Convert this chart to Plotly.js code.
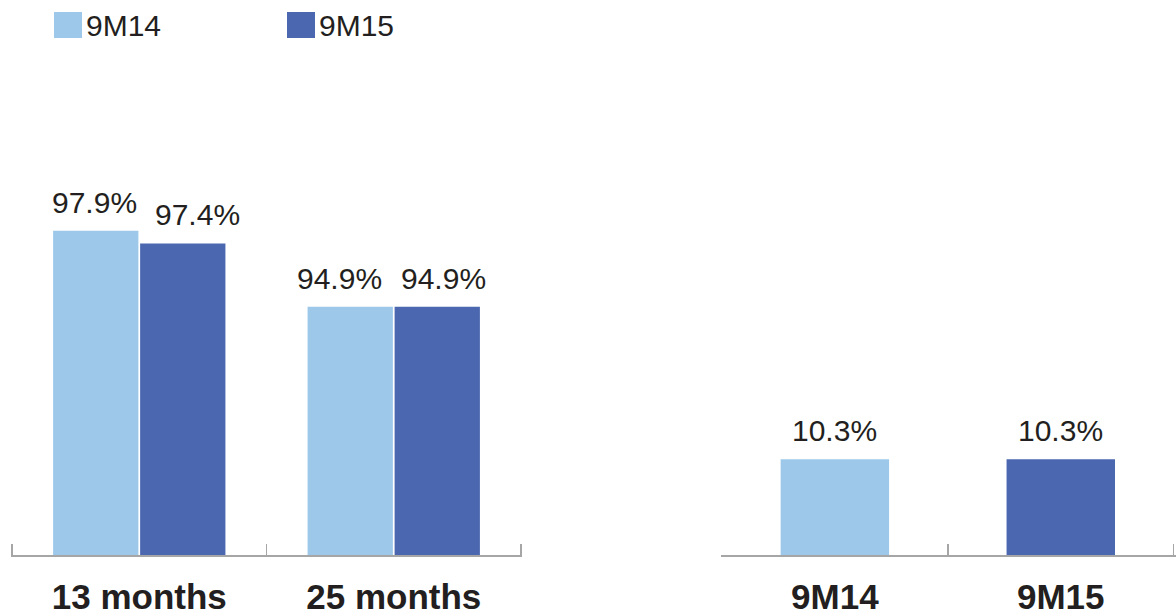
<!DOCTYPE html>
<html>
<head>
<meta charset="utf-8">
<script src="https://cdn.plot.ly/plotly-3.0.1.min.js"></script>
<style>
html,body{margin:0;padding:0;background:#fff;}
#chart{width:1176px;height:615px;}
</style>
</head>
<body>
<div id="chart"></div>
<script>
// ---- data ----
const retentionCategories = ["13 months", "25 months"];
const retention9M14 = [97.9, 94.9];
const retention9M15 = [97.4, 94.9];
const rightCategories = ["9M14", "9M15"];
const rightValues = [10.3, 10.3];
const seriesNames = ["9M14", "9M15"];

const LIGHT = "#9DC8EA";
const DARK = "#4A67B0";
const TEXT = "#231F20";
const AXIS = "#A6A6A6";
const FONT = "Arial, 'Liberation Sans', sans-serif";

// label nudges (pixels) so neighbouring labels do not collide, as in the original
const nudge14 = [-1, -10];
const nudge15 = [14, 6];

const fmt = v => v.toFixed(1) + "%";

const traces = [
  {type: "bar", x: retentionCategories, y: retention9M14, name: seriesNames[0],
   marker: {color: LIGHT}, xaxis: "x", yaxis: "y", hoverinfo: "none"},
  {type: "bar", x: retentionCategories, y: retention9M15, name: seriesNames[1],
   marker: {color: DARK}, xaxis: "x", yaxis: "y", hoverinfo: "none"},
  {type: "bar", x: rightCategories, y: rightValues, width: 0.48,
   marker: {color: [LIGHT, DARK]}, xaxis: "x2", yaxis: "y2", hoverinfo: "none", showlegend: false}
];

const annotations = [];
retentionCategories.forEach((c, i) => {
  annotations.push({x: c, y: retention9M14[i], xref: "x", yref: "y", text: fmt(retention9M14[i]),
    showarrow: false, yanchor: "bottom", xshift: -44 + nudge14[i], yshift: 10,
    font: {family: FONT, size: 30, color: TEXT}});
  annotations.push({x: c, y: retention9M15[i], xref: "x", yref: "y", text: fmt(retention9M15[i]),
    showarrow: false, yanchor: "bottom", xshift: 44 + nudge15[i], yshift: 10,
    font: {family: FONT, size: 30, color: TEXT}});
});
rightCategories.forEach((c, i) => {
  annotations.push({x: c, y: rightValues[i], xref: "x2", yref: "y2", text: fmt(rightValues[i]),
    showarrow: false, yanchor: "bottom", yshift: 10,
    font: {family: FONT, size: 30, color: TEXT}});
});

// legend (manual)
const shapes = [];
const legendX = [54 / 1176, 287 / 1176];
const legendColors = [LIGHT, DARK];
seriesNames.forEach((n, i) => {
  shapes.push({type: "rect", xref: "paper", yref: "paper",
    x0: legendX[i], x1: legendX[i] + 28 / 1176,
    y0: (555 - 38) / 456, y1: (555 - 12) / 456,
    line: {width: 0}, fillcolor: legendColors[i]});
  annotations.push({xref: "paper", yref: "paper", x: legendX[i] + 30 / 1176, y: (555 - 26) / 456,
    xanchor: "left", yanchor: "middle", showarrow: false, text: n,
    font: {family: FONT, size: 30, color: TEXT}});
});

const xCommon = {
  type: "category", showline: true, linecolor: AXIS, linewidth: 1.5,
  ticks: "inside", ticklen: 11, tickwidth: 1.5, tickcolor: AXIS, tickson: "boundaries",
  tickfont: {family: FONT, size: 35, color: TEXT, weight: "bold"},
  ticklabelstandoff: 10, showgrid: false, zeroline: false, fixedrange: true
};
const yCommon = {showgrid: false, zeroline: false, showticklabels: false, showline: false, ticks: "", fixedrange: true};

const layout = {
  width: 1176, height: 615,
  margin: {l: 0, r: 0, t: 99, b: 60, pad: 0},
  paper_bgcolor: "#fff", plot_bgcolor: "#fff",
  showlegend: false,
  barmode: "group", bargap: 0.316, bargroupgap: 0.02,
  xaxis: Object.assign({}, xCommon, {domain: [11 / 1176, 522 / 1176], anchor: "y", range: [-0.504, 1.504]}),
  xaxis2: Object.assign({}, xCommon, {domain: [721 / 1176, 1], anchor: "y2", range: [-0.504, 1.51]}),
  yaxis: Object.assign({}, yCommon, {range: [85.1, 103.1], anchor: "x"}),
  yaxis2: Object.assign({}, yCommon, {range: [0, 49], anchor: "x2"}),
  shapes: shapes,
  annotations: annotations,
  font: {family: FONT, color: TEXT}
};

Plotly.newPlot("chart", traces, layout, {staticPlot: true, displayModeBar: false});
</script>
</body>
</html>
